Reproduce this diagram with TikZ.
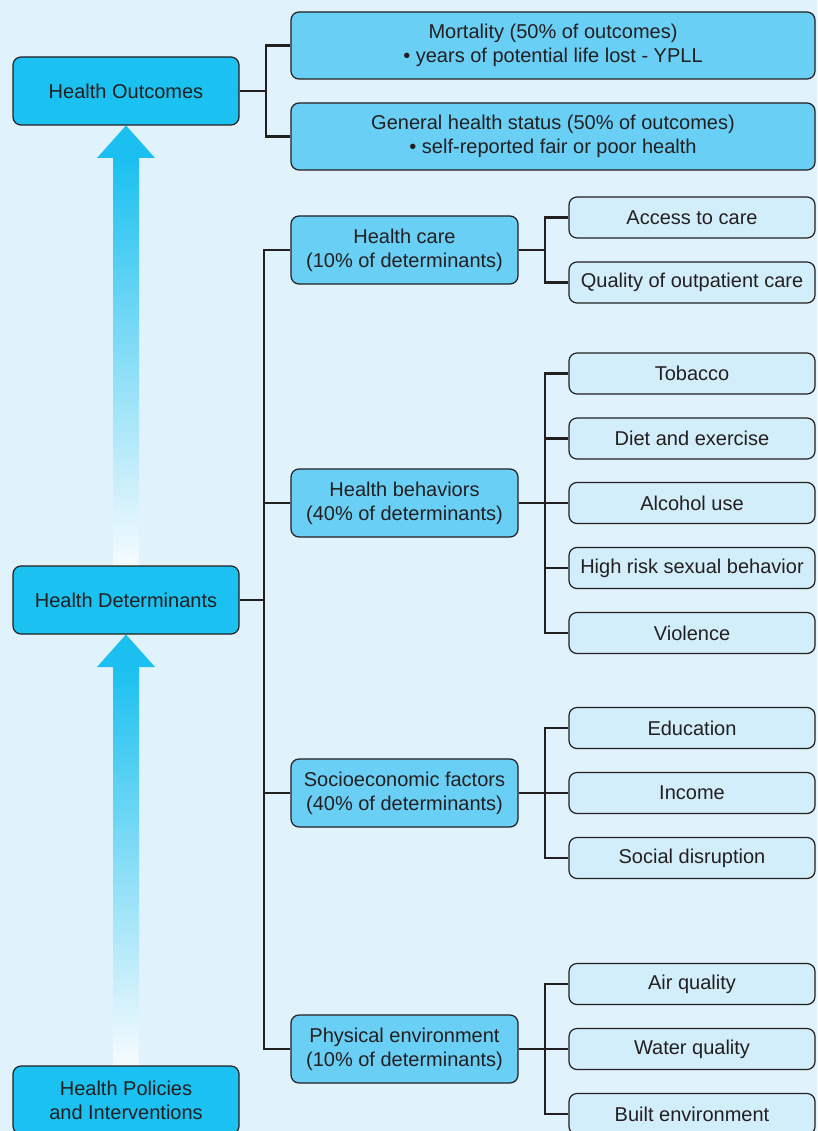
\documentclass[tikz,border=0pt]{standalone}
\usepackage{fontspec}
\setmainfont{Liberation Sans}
\definecolor{bgblue}{HTML}{E0F2FB}
\definecolor{mainfill}{HTML}{1BC1F0}
\definecolor{midfill}{HTML}{6ACFF5}
\definecolor{leaffill}{HTML}{D3EEFB}
\definecolor{inkgray}{HTML}{231F20}
\definecolor{arrowtop}{HTML}{1BC0F0}
\definecolor{arrowbot}{HTML}{F6FBFE}
\tikzset{
  box/.style={draw=inkgray, line width=1.2pt, rounded corners=8pt, align=center,
    text=inkgray, inner sep=0pt, font=\fontsize{20}{24}\selectfont},
  mainbox/.style={box, fill=mainfill, minimum width=226pt, minimum height=68pt},
  midbox/.style={box, fill=midfill, minimum width=227pt, minimum height=68pt},
  widebox/.style={box, fill=midfill, minimum width=524pt, minimum height=67pt},
  leafbox/.style={box, fill=leaffill, minimum width=246pt, minimum height=41pt},
  conn/.style={draw=inkgray, line width=2.6pt, line join=miter},
}
\begin{document}
\begin{tikzpicture}[x=1pt,y=-1pt]
\useasboundingbox (0,0) rectangle (817,1131);
\fill[bgblue] (0,0) rectangle (817,1131);

% rising arrows (drawn first, behind the boxes)
\shade[top color=arrowtop, bottom color=arrowbot] (113,158) rectangle (139,566);
\fill[arrowtop] (97,158) -- (126,125.5) -- (155,158) -- cycle;
\shade[top color=arrowtop, bottom color=arrowbot] (113,667) rectangle (139,1066);
\fill[arrowtop] (97,667) -- (126,634.5) -- (155,667) -- cycle;

% left column
\node[mainbox] (out) at (126,91) {Health Outcomes};
\node[mainbox] (det) at (126,600) {Health Determinants};
\node[mainbox] (pol) at (126,1100) {Health Policies\\and Interventions};

% outcomes
\node[widebox] (mort) at (553,45.5) {Mortality (50\% of outcomes)\\• years of potential life lost - YPLL};
\node[widebox] (gen) at (553,136.5) {General health status (50\% of outcomes)\\• self-reported fair or poor health};

% determinant groups
\node[midbox] (hc) at (404.5,250) {Health care\\(10\% of determinants)};
\node[midbox] (hb) at (404.5,503) {Health behaviors\\(40\% of determinants)};
\node[midbox] (se) at (404.5,793) {Socioeconomic factors\\(40\% of determinants)};
\node[midbox] (pe) at (404.5,1049) {Physical environment\\(10\% of determinants)};

% factors
\node[leafbox] (acc) at (692,217.5) {Access to care};
\node[leafbox] (qual) at (692,282.5) {Quality of outpatient care};
\node[leafbox] (tob) at (692,373.5) {Tobacco};
\node[leafbox] (diet) at (692,438.5) {Diet and exercise};
\node[leafbox] (alc) at (692,503) {Alcohol use};
\node[leafbox] (sex) at (692,568) {High risk sexual behavior};
\node[leafbox] (vio) at (692,633) {Violence};
\node[leafbox] (edu) at (692,728) {Education};
\node[leafbox] (inc) at (692,793) {Income};
\node[leafbox] (soc) at (692,858) {Social disruption};
\node[leafbox] (air) at (692,984) {Air quality};
\node[leafbox] (wat) at (692,1049) {Water quality};
\node[leafbox] (blt) at (692,1114) {Built environment};

% branch points
\coordinate (jout) at (266,91);
\coordinate (jdet) at (264,600);
\coordinate (jhc) at (545,250);
\coordinate (jhb) at (545,503);
\coordinate (jse) at (545,793);
\coordinate (jpe) at (545,1049);

% connectors
\draw[conn] (out.east) -- (jout);
\draw[conn] (mort.west) -| (jout);
\draw[conn] (gen.west) -| (jout);

\draw[conn] (det.east) -- (jdet);
\draw[conn] (hc.west) -| (jdet);
\draw[conn] (hb.west) -| (jdet);
\draw[conn] (se.west) -| (jdet);
\draw[conn] (pe.west) -| (jdet);

\draw[conn] (hc.east) -- (jhc);
\draw[conn] (acc.west) -| (jhc);
\draw[conn] (qual.west) -| (jhc);

\draw[conn] (hb.east) -- (jhb);
\foreach \n in {tob,diet,alc,sex,vio} \draw[conn] (\n.west) -| (jhb);

\draw[conn] (se.east) -- (jse);
\foreach \n in {edu,inc,soc} \draw[conn] (\n.west) -| (jse);

\draw[conn] (pe.east) -- (jpe);
\foreach \n in {air,wat,blt} \draw[conn] (\n.west) -| (jpe);
\end{tikzpicture}
\end{document}
